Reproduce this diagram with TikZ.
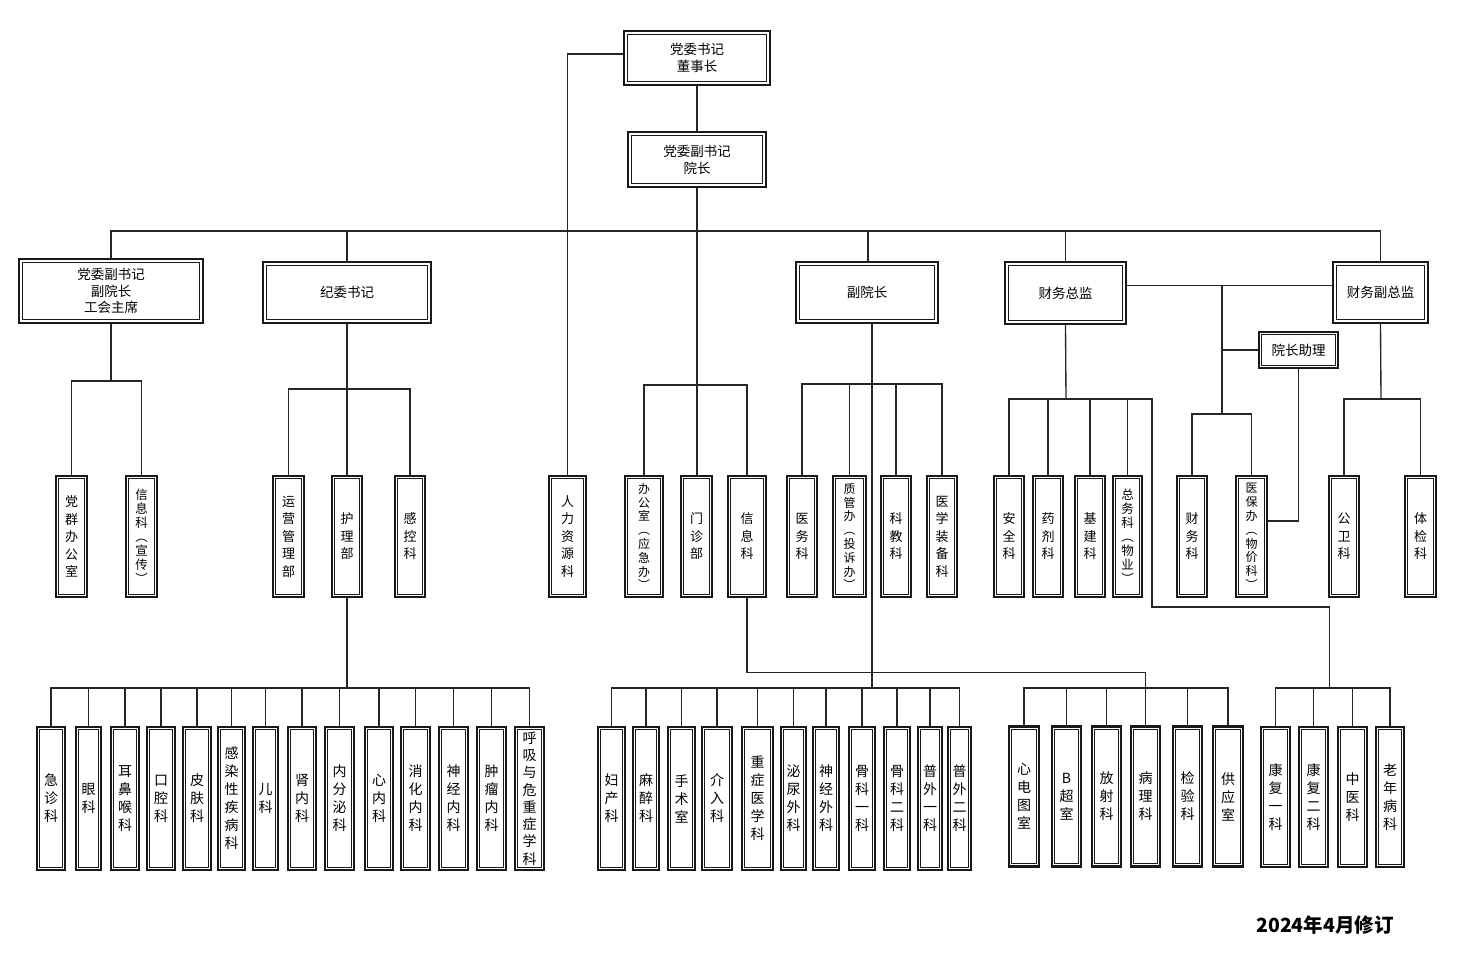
\documentclass[tikz,border=0pt]{standalone}
\usepackage{fontspec}
\newfontfamily\cjk{Noto Sans CJK SC}
\begin{document}
\begin{tikzpicture}[x=1pt,y=-1pt,
  ln/.style={line width=1.35pt, draw=black!85},
  big/.style={draw=black!90, line width=1.8pt, fill=white, align=center, inner sep=0pt,
    font=\cjk\fontsize{13.5}{16.8}\selectfont,
    path picture={\draw[line width=1pt] ([xshift=3.4pt,yshift=-3.4pt]path picture bounding box.north west) rectangle ([xshift=-3.4pt,yshift=3.4pt]path picture bounding box.south east);}},
  dept/.style={draw=black!90, line width=2.6pt, fill=white, align=center, inner sep=0pt,
    minimum width=30pt, minimum height=121pt,
    font=\cjk\fontsize{13}{17.5}\selectfont,
    path picture={\draw[line width=0.7pt] ([xshift=2.8pt,yshift=-2.8pt]path picture bounding box.north west) rectangle ([xshift=-2.8pt,yshift=2.8pt]path picture bounding box.south east);}},
  deptc/.style={dept, font=\cjk\fontsize{12.5}{14}\selectfont},
  deptcc/.style={dept, font=\cjk\fontsize{12}{13.8}\selectfont},
  leaf/.style={dept, minimum width=28pt, minimum height=143pt, font=\cjk\fontsize{14}{18}\selectfont},
  leafs/.style={leaf, minimum height=140pt},
]
\fill[white] (0,0) rectangle (1460,967);
\useasboundingbox (0,0) rectangle (1460,967);

% ---------- top level ----------
\node[big, minimum width=146pt, minimum height=54pt] (T1) at (697,58) {党委书记\\董事长};
\node[big, minimum width=138pt, minimum height=55pt] (T2) at (697,159.5) {党委副书记\\院长};

\node[big, minimum width=184pt, minimum height=64pt, font=\cjk\fontsize{13.5}{16.5}\selectfont] (B1) at (111,291) {党委副书记\\副院长\\工会主席};
\node[big, minimum width=168pt, minimum height=61pt] (B2) at (347,292.5) {纪委书记};
\node[big, minimum width=142pt, minimum height=61pt] (B3) at (867,292.5) {副院长};
\node[big, minimum width=121pt, minimum height=62pt] (B4) at (1065.5,293) {财务总监};
\node[big, minimum width=95pt, minimum height=61pt] (B5) at (1380.5,292.5) {财务副总监};
\node[dept, minimum width=79pt, minimum height=36pt, font=\cjk\fontsize{13.5}{16}\selectfont] (B6) at (1298.5,350) {院长助理};

% ---------- middle row ----------
\node[dept, minimum width=31pt] (dq) at (71.5,536.5) {党\\群\\办\\公\\室};
\node[deptc, minimum width=31pt] (xx) at (141.5,536.5) {信\\息\\科\\︵\\宣\\传\\︶};
\node[dept, minimum width=31pt] (yy) at (288.5,536.5) {运\\营\\管\\理\\部};
\node[dept] (hl) at (347,536.5) {护\\理\\部};
\node[dept] (gk) at (410,536.5) {感\\控\\科};
\node[dept, minimum width=37pt] (rl) at (567.5,536.5) {人\\力\\资\\源\\科};
\node[deptcc, minimum width=38pt] (bg) at (644,536.5) {办\\公\\室\\︵\\应\\急\\办\\︶};
\node[dept, minimum width=31pt] (mz) at (696.5,536.5) {门\\诊\\部};
\node[dept, minimum width=38pt] (xi) at (747,536.5) {信\\息\\科};
\node[dept] (yw) at (802,536.5) {医\\务\\科};
\node[deptcc, minimum width=33pt] (zg) at (849.5,536.5) {质\\管\\办\\︵\\投\\诉\\办\\︶};
\node[dept] (kj) at (896,536.5) {科\\教\\科};
\node[dept] (zb) at (942,536.5) {医\\学\\装\\备\\科};
\node[dept] (aq) at (1009,536.5) {安\\全\\科};
\node[dept] (yj) at (1048,536.5) {药\\剂\\科};
\node[dept] (jj) at (1090,536.5) {基\\建\\科};
\node[deptc, minimum width=29pt] (zw) at (1127.5,536.5) {总\\务\\科\\︵\\物\\业\\︶};
\node[dept] (cw) at (1192,536.5) {财\\务\\科};
\node[deptcc, minimum width=31pt] (yb) at (1251.5,536.5) {医\\保\\办\\︵\\物\\价\\科\\︶};
\node[dept] (gw) at (1344,536.5) {公\\卫\\科};
\node[dept, minimum width=31pt] (tj) at (1420.5,536.5) {体\\检\\科};

% ---------- bottom row, group 1 ----------
\node[leaf] (b1) at (51,798.5) {急\\诊\\科};
\node[leaf, minimum width=25pt] (b2) at (88.5,798.5) {眼\\科};
\node[leaf] (b3) at (125,798.5) {耳\\鼻\\喉\\科};
\node[leaf] (b4) at (161,798.5) {口\\腔\\科};
\node[leaf] (b5) at (197,798.5) {皮\\肤\\科};
\node[leaf, minimum width=27pt] (b6) at (231.5,798.5) {感\\染\\性\\疾\\病\\科};
\node[leaf, minimum width=25pt] (b7) at (265.5,798.5) {儿\\科};
\node[leaf] (b8) at (302,798.5) {肾\\内\\科};
\node[leaf, minimum width=29pt] (b9) at (339.5,798.5) {内\\分\\泌\\科};
\node[leaf] (b10) at (379,798.5) {心\\内\\科};
\node[leaf, minimum width=29pt] (b11) at (415.5,798.5) {消\\化\\内\\科};
\node[leaf, minimum width=29pt] (b12) at (453.5,798.5) {神\\经\\内\\科};
\node[leaf, minimum width=29pt] (b13) at (491.5,798.5) {肿\\瘤\\内\\科};
\node[leaf, minimum width=29pt, font=\cjk\fontsize{14}{17.3}\selectfont] (b14) at (529.5,798.5) {呼\\吸\\与\\危\\重\\症\\学\\科};

% ---------- bottom row, group 2 ----------
\node[leaf, minimum width=27pt] (c1) at (611.5,798.5) {妇\\产\\科};
\node[leaf, minimum width=26pt] (c2) at (646,798.5) {麻\\醉\\科};
\node[leaf, minimum width=27pt] (c3) at (681.5,798.5) {手\\术\\室};
\node[leaf, minimum width=30pt] (c4) at (717,798.5) {介\\入\\科};
\node[leaf, minimum width=31pt] (c5) at (757.5,798.5) {重\\症\\医\\学\\科};
\node[leaf, minimum width=25pt] (c6) at (793.5,798.5) {泌\\尿\\外\\科};
\node[leaf, minimum width=26pt] (c7) at (826,798.5) {神\\经\\外\\科};
\node[leaf, minimum width=26pt] (c8) at (862,798.5) {骨\\科\\一\\科};
\node[leaf, minimum width=26pt] (c9) at (897,798.5) {骨\\科\\二\\科};
\node[leaf, minimum width=24pt] (c10) at (930,798.5) {普\\外\\一\\科};
\node[leaf, minimum width=23pt] (c11) at (959.5,798.5) {普\\外\\二\\科};

% ---------- bottom row, group 3 ----------
\node[leafs, minimum width=30pt] (d1) at (1024,796.5) {心\\电\\图\\室};
\node[leafs, minimum width=29pt] (d2) at (1066.5,796.5) {B\\超\\室};
\node[leafs, minimum width=29pt] (d3) at (1106.5,796.5) {放\\射\\科};
\node[leafs, minimum width=29pt] (d4) at (1145.5,796.5) {病\\理\\科};
\node[leafs, minimum width=29pt] (d5) at (1187.5,796.5) {检\\验\\科};
\node[leafs, minimum width=30pt] (d6) at (1228,796.5) {供\\应\\室};

% ---------- bottom row, group 4 ----------
\node[leafs, minimum width=29pt] (e1) at (1275.5,797) {康\\复\\一\\科};
\node[leafs, minimum width=29pt] (e2) at (1313.5,797) {康\\复\\二\\科};
\node[leafs, minimum width=29pt] (e3) at (1352.5,797) {中\\医\\科};
\node[leafs, minimum width=28pt] (e4) at (1390,797) {老\\年\\病\\科};

\node[font=\cjk\bfseries\fontsize{19.5}{21}\selectfont] (date) at (1325,925) {2024年4月修订};

% ---------- coordinates ----------
\coordinate (bus) at (0,231);
\coordinate (br1) at (111,381);
\coordinate (br2) at (347,389);
\coordinate (br3) at (697,385);
\coordinate (br4) at (872,384);
\coordinate (br5) at (1066,399);
\coordinate (j5a) at (1152,399);
\coordinate (j5b) at (1152,607);
\coordinate (h6) at (0,285.5);
\coordinate (j6) at (1222,285.5);
\coordinate (br6) at (1222,414);
\coordinate (br7) at (1381,399);
\coordinate (bus1) at (347,688);
\coordinate (bus2) at (872,688);
\coordinate (j3) at (1145.5,672.5);
\coordinate (bus3) at (1145.5,688);
\coordinate (bus4) at (1329.5,688);

% ---------- connectors ----------
\draw[ln] ([yshift=4pt]T1.west) -| (rl.north);
\draw[ln] (T1.south) -- (T2.north);
\draw[ln] (T2.south) -- (T2.south |- mz.north);
\draw[ln] (B1.north) -- (B1.north |- bus) -- (B5.north |- bus) -- (B5.north);
\draw[ln] (B2.north) -- (B2.north |- bus);
\draw[ln] ([xshift=1pt]B3.north) -- ([xshift=1pt]B3.north |- bus);
\draw[ln] (B4.north) -- (B4.north |- bus);

\draw[ln] (B1.south) -- (br1);
\draw[ln] (dq.north) |- (br1) -| (xx.north);

\draw[ln] (B2.south) -- (hl.north);
\draw[ln] (yy.north) |- (br2) -| (gk.north);
\draw[ln] (hl.south) -- (bus1);
\draw[ln] (b1.north) |- (bus1) -| (b14.north);
\foreach \n in {b2,b3,b4,b5,b6,b7,b8,b9,b10,b11,b12,b13}
  \draw[ln] (\n.north) -- (\n.north |- bus1);

\draw[ln] (bg.north) |- (br3) -| (xi.north);

\draw[ln] ([xshift=5pt]B3.south) -- (bus2);
\draw[ln] (yw.north) |- (br4) -| (zb.north);
\foreach \n in {zg,kj}
  \draw[ln] (\n.north) -- (\n.north |- br4);
\draw[ln] (c1.north) |- (bus2) -| (c11.north);
\foreach \n in {c2,c3,c4,c5,c6,c7,c8,c9,c10}
  \draw[ln] (\n.north) -- (\n.north |- bus2);

\draw[ln] (xi.south) |- (j3) -- (d4.north);
\draw[ln] (d1.north) |- (bus3) -| (d6.north);
\foreach \n in {d2,d3,d5}
  \draw[ln] (\n.north) -- (\n.north |- bus3);

\draw[ln] (B4.south) -- (br5);
\draw[ln] (aq.north) |- (br5) -- (j5a) -- (j5b) -| (bus4);
\foreach \n in {yj,jj,zw}
  \draw[ln] (\n.north) -- (\n.north |- br5);
\draw[ln] (e1.north) |- (bus4) -| (e4.north);
\foreach \n in {e2,e3}
  \draw[ln] (\n.north) -- (\n.north |- bus4);

\draw[ln] (B4.east |- h6) -- (B5.west |- h6);
\draw[ln] (j6) -- (br6);
\draw[ln] (cw.north) |- (br6) -| (yb.north);
\draw[ln] (B6.west) -- (B6.west -| j6);
\draw[ln] (B6.south) |- ([yshift=15.5pt]yb.east);

\draw[ln] (B5.south) -- (br7);
\draw[ln] (gw.north) |- (br7) -| (tj.north);
\end{tikzpicture}
\end{document}
